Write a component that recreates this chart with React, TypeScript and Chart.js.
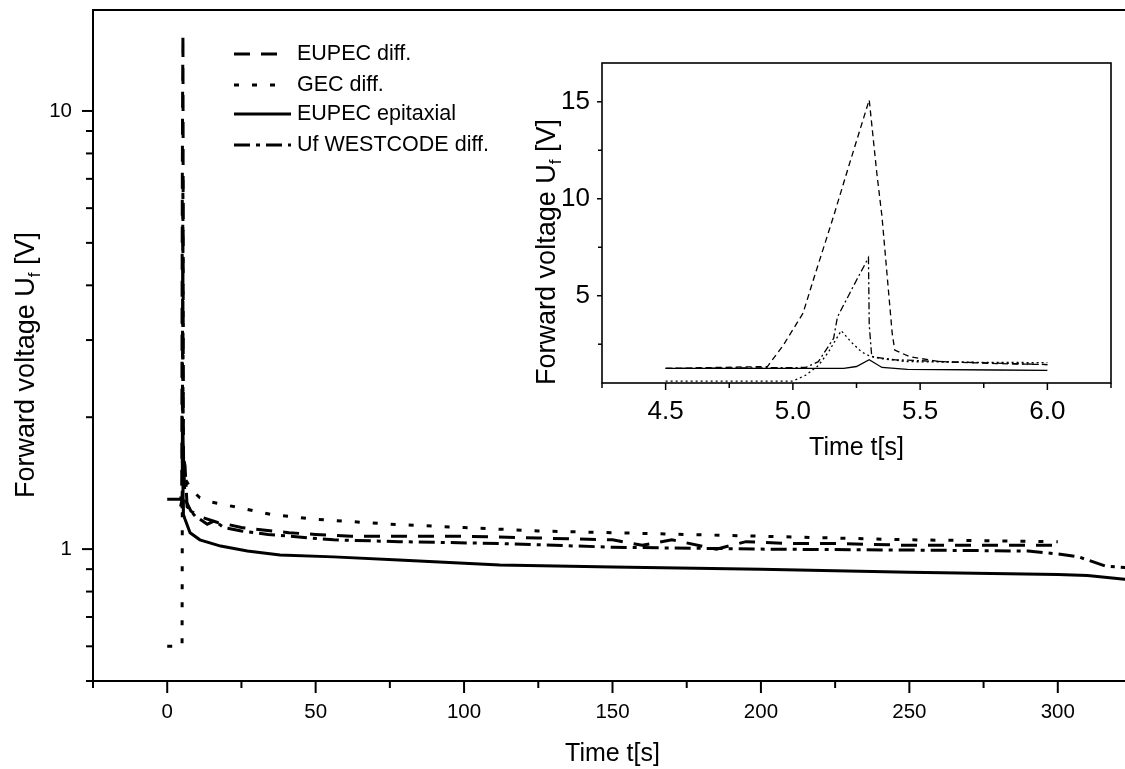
import React, { useEffect, useRef } from 'react';
import { Chart, registerables } from 'chart.js';

Chart.register(...registerables);

const FONT = '"Liberation Sans", Arial, Helvetica, sans-serif';

const SERIES_NAMES = ['EUPEC diff.', 'GEC diff.', 'EUPEC epitaxial', 'Uf WESTCODE diff.'];

// ---------- main chart data (time in s, forward voltage in V) ----------
const EUPEC_DIFF_T = [0, 3.4, 4.5, 4.9, 5.0, 5.1, 5.2, 5.3, 5.35, 5.4, 5.5, 6, 8, 12, 17, 20, 25, 30, 41, 50, 62, 75, 90, 100, 125, 150, 160, 170, 185, 195, 210, 225, 250, 275, 300];
const EUPEC_DIFF_U = [1.3, 1.3, 1.3, 1.35, 3.5, 7.5, 11.5, 15, 9, 2.2, 1.6, 1.3, 1.22, 1.18, 1.15, 1.14, 1.12, 1.11, 1.09, 1.08, 1.07, 1.07, 1.07, 1.07, 1.06, 1.05, 1.02, 1.05, 1.0, 1.04, 1.03, 1.03, 1.02, 1.02, 1.02];

const GEC_DIFF_T = [0, 5.0, 5.05, 5.1, 5.14, 5.19, 5.23, 5.3, 5.45, 6, 8, 11, 15, 25, 35, 50, 75, 100, 125, 150, 175, 200, 225, 250, 275, 300];
const GEC_DIFF_U = [0.6, 0.6, 0.9, 1.4, 2.1, 3.2, 2.6, 1.9, 1.6, 1.45, 1.37, 1.31, 1.28, 1.24, 1.2, 1.17, 1.14, 1.12, 1.1, 1.09, 1.08, 1.07, 1.06, 1.05, 1.045, 1.04];

const EUPEC_EPI_T = [4.5, 5.2, 5.3, 5.35, 5.45, 6, 7.7, 11, 18, 27, 38, 56, 78, 112, 150, 200, 250, 300, 310, 325];
const EUPEC_EPI_U = [1.25, 1.25, 1.6, 1.3, 1.2, 1.17, 1.09, 1.05, 1.016, 0.99, 0.97, 0.96, 0.944, 0.92, 0.91, 0.9, 0.885, 0.875, 0.87, 0.85];

const WESTCODE_T = [4.5, 5.05, 5.1, 5.13, 5.16, 5.175, 5.25, 5.297, 5.3, 5.31, 5.4, 5.6, 6, 6.7, 9.4, 13.5, 16, 19, 25, 34, 56, 78, 112, 150, 200, 250, 290, 300, 307, 316, 325];
const WESTCODE_U = [1.25, 1.3, 1.6, 2.2, 2.8, 3.9, 5.8, 6.96, 2.5, 1.85, 1.7, 1.6, 1.55, 1.25, 1.19, 1.14, 1.16, 1.12, 1.1, 1.08, 1.05, 1.04, 1.03, 1.01, 1.0, 0.995, 0.99, 0.975, 0.96, 0.915, 0.905];

// ---------- inset data (zoom on 4.5 .. 6.0 s) ----------
const IN_EUPEC_DIFF_T = [4.5, 4.9, 4.96, 5.04, 5.08, 5.16, 5.22, 5.3, 5.33, 5.35, 5.39, 5.4, 5.46, 5.58, 5.8, 6.0];
const IN_EUPEC_DIFF_U = [1.25, 1.35, 2.4, 4.1, 5.8, 9.1, 11.7, 15.1, 11.3, 9.1, 3.1, 2.2, 1.85, 1.6, 1.5, 1.45];

const IN_GEC_DIFF_T = [4.5, 5.0, 5.05, 5.1, 5.14, 5.19, 5.23, 5.27, 5.3, 5.35, 5.45, 5.7, 6.0];
const IN_GEC_DIFF_U = [0.6, 0.6, 0.9, 1.4, 2.1, 3.2, 2.6, 2.1, 1.9, 1.75, 1.6, 1.57, 1.55];

const IN_EUPEC_EPI_T = [4.5, 5.2, 5.25, 5.3, 5.35, 5.45, 5.8, 6.0];
const IN_EUPEC_EPI_U = [1.25, 1.25, 1.35, 1.7, 1.3, 1.2, 1.17, 1.15];

const IN_WESTCODE_T = [4.5, 5.05, 5.1, 5.13, 5.16, 5.175, 5.25, 5.297, 5.3, 5.31, 5.4, 5.6, 6.0];
const IN_WESTCODE_U = [1.25, 1.3, 1.6, 2.2, 2.8, 3.9, 5.8, 6.96, 3.5, 1.85, 1.7, 1.6, 1.45];

// ---------- ticks ----------
const MAIN_X_TICKS = [-25, 0, 25, 50, 75, 100, 125, 150, 175, 200, 225, 250, 275, 300, 325];
const MAIN_X_LABELLED = [0, 50, 100, 150, 200, 250, 300];
const MAIN_Y_TICKS = [0.5, 0.6, 0.7, 0.8, 0.9, 1, 2, 3, 4, 5, 6, 7, 8, 9, 10];
const MAIN_Y_LABELLED = [1, 10];

const INSET_X_TICKS = [4.25, 4.5, 4.75, 5.0, 5.25, 5.5, 5.75, 6.0, 6.25];
const INSET_X_LABELLED = [4.5, 5.0, 5.5, 6.0];
const INSET_Y_TICKS = [2.5, 5, 7.5, 10, 12.5, 15];
const INSET_Y_LABELLED = [5, 10, 15];

const MAIN_DASH = [[16, 11], [5, 13], [], [16, 6, 4, 6]];
const INSET_DASH = [[6, 4], [2, 3], [], [7, 3, 2, 3]];

const pts = (t: number[], u: number[]) => t.map((x, i) => ({ x, y: u[i] }));
const has = (arr: number[], v: number) => arr.some((a) => Math.abs(a - v) < 1e-9);

function drawRich(ctx: any, parts: any[], cx: number, cy: number, size: number, rotate: boolean) {
  ctx.save();
  ctx.translate(cx, cy);
  if (rotate) ctx.rotate(-Math.PI / 2);
  const fontFor = (sub: boolean) => `${sub ? Math.round(size * 0.62) : size}px ${FONT}`;
  let total = 0;
  const widths = parts.map((p) => {
    ctx.font = fontFor(!!p.sub);
    const w = ctx.measureText(p.text).width;
    total += w;
    return w;
  });
  let x = -total / 2;
  ctx.textBaseline = 'alphabetic';
  ctx.textAlign = 'left';
  ctx.fillStyle = '#000';
  parts.forEach((p, i) => {
    ctx.font = fontFor(!!p.sub);
    ctx.fillText(p.text, x, size * 0.36 + (p.sub ? size * 0.22 : 0));
    x += widths[i];
  });
  ctx.restore();
}

const decorPlugin = {
  id: 'decor',
  afterDraw(chart: any, _args: any, opts: any) {
    const ctx = chart.ctx;
    const { left, right, top, bottom } = chart.chartArea;
    ctx.save();
    ctx.strokeStyle = '#000';
    ctx.setLineDash([]);
    ctx.lineWidth = opts.frameWidth;
    ctx.strokeRect(left, top, right - left, bottom - top);
    ctx.lineWidth = opts.tickWidth;
    const xs = chart.scales.x;
    xs.ticks.forEach((t: any) => {
      const len = has(opts.xMajor, t.value) ? opts.xLen[0] : opts.xLen[1];
      const p = xs.getPixelForValue(t.value);
      ctx.beginPath();
      ctx.moveTo(p, bottom);
      ctx.lineTo(p, bottom + len);
      ctx.stroke();
    });
    const ys = chart.scales.y;
    ys.ticks.forEach((t: any) => {
      const len = has(opts.yMajor, t.value) ? opts.yLen[0] : opts.yLen[1];
      const p = ys.getPixelForValue(t.value);
      ctx.beginPath();
      ctx.moveTo(left, p);
      ctx.lineTo(left - len, p);
      ctx.stroke();
    });
    (opts.titles || []).forEach((tt: any) => {
      const cx = tt.x === 'center' ? (left + right) / 2 : tt.x;
      drawRich(ctx, tt.parts, cx, tt.y, tt.size, tt.rotate);
    });
    if (opts.legend) {
      const lg = opts.legend;
      chart.data.datasets.forEach((ds: any, i: number) => {
        const y = lg.rows[i];
        ctx.save();
        ctx.lineWidth = ds.borderWidth;
        ctx.setLineDash(ds.borderDash || []);
        ctx.beginPath();
        ctx.moveTo(lg.x0, y);
        ctx.lineTo(lg.x0 + lg.lens[i], y);
        ctx.stroke();
        ctx.restore();
        ctx.fillStyle = '#000';
        ctx.font = `${lg.size}px ${FONT}`;
        ctx.textBaseline = 'middle';
        ctx.textAlign = 'left';
        ctx.fillText(ds.label, lg.textX, y);
      });
    }
    ctx.restore();
  },
};

function makeDatasets(series: { t: number[]; u: number[] }[], dashes: number[][], width: number) {
  return series.map((s, i) => ({
    label: SERIES_NAMES[i],
    data: pts(s.t, s.u),
    borderColor: '#000',
    borderWidth: width,
    borderDash: dashes[i],
    pointRadius: 0,
    tension: 0,
    fill: false,
  }));
}

const fixX = (h: number) => (s: any) => {
  s.height = h;
  s.paddingLeft = 0;
  s.paddingRight = 0;
  s.paddingTop = 0;
  s.paddingBottom = 0;
};
const fixY = (w: number) => (s: any) => {
  s.width = w;
  s.paddingLeft = 0;
  s.paddingRight = 0;
  s.paddingTop = 0;
  s.paddingBottom = 0;
};

export default function App() {
  const mainRef = useRef<HTMLCanvasElement>(null);
  const insetRef = useRef<HTMLCanvasElement>(null);

  useEffect(() => {
    document.body.style.margin = '0';
    const mainSeries = [
      { t: EUPEC_DIFF_T, u: EUPEC_DIFF_U },
      { t: GEC_DIFF_T, u: GEC_DIFF_U },
      { t: EUPEC_EPI_T, u: EUPEC_EPI_U },
      { t: WESTCODE_T, u: WESTCODE_U },
    ];
    const insetSeries = [
      { t: IN_EUPEC_DIFF_T, u: IN_EUPEC_DIFF_U },
      { t: IN_GEC_DIFF_T, u: IN_GEC_DIFF_U },
      { t: IN_EUPEC_EPI_T, u: IN_EUPEC_EPI_U },
      { t: IN_WESTCODE_T, u: IN_WESTCODE_U },
    ];

    const main = new Chart(mainRef.current as any, {
      type: 'line',
      data: { datasets: makeDatasets(mainSeries, MAIN_DASH, 3) as any },
      options: {
        animation: false,
        responsive: false,
        maintainAspectRatio: false,
        layout: { padding: { left: 0, top: 10, right: 8, bottom: 0 } },
        plugins: {
          legend: { display: false },
          tooltip: { enabled: false },
          decor: {
            frameWidth: 2,
            tickWidth: 2,
            xMajor: MAIN_X_LABELLED,
            yMajor: MAIN_Y_LABELLED,
            xLen: [12, 7],
            yLen: [11, 7],
            titles: [
              { parts: [{ text: 'Time t[s]' }], x: 'center', y: 752, size: 25, rotate: false },
              { parts: [{ text: 'Forward voltage U' }, { text: 'f', sub: true }, { text: ' [V]' }], x: 24, y: 365, size: 27, rotate: true },
            ],
            legend: { rows: [54, 85, 114, 145], x0: 234, lens: [44, 42, 57, 57], textX: 297, size: 21.5 },
          },
        } as any,
        scales: {
          x: {
            type: 'linear',
            min: -25,
            max: 325,
            afterFit: fixX(88),
            afterBuildTicks: (s: any) => { s.ticks = MAIN_X_TICKS.map((v) => ({ value: v })); },
            grid: { display: false, drawTicks: false },
            border: { display: false },
            ticks: {
              autoSkip: false,
              maxRotation: 0,
              padding: 19,
              color: '#000',
              font: { family: FONT, size: 20.5 },
              callback: (v: any) => (has(MAIN_X_LABELLED, Number(v)) ? String(v) : ''),
            },
          },
          y: {
            type: 'logarithmic',
            min: 0.5,
            max: 17,
            afterFit: fixY(93),
            afterBuildTicks: (s: any) => { s.ticks = MAIN_Y_TICKS.map((v) => ({ value: v })); },
            grid: { display: false, drawTicks: false },
            border: { display: false },
            ticks: {
              autoSkip: false,
              padding: 21,
              color: '#000',
              font: { family: FONT, size: 20.5 },
              callback: (v: any) => (has(MAIN_Y_LABELLED, Number(v)) ? String(v) : ''),
            },
          },
        } as any,
      },
      plugins: [decorPlugin],
    });

    const inset = new Chart(insetRef.current as any, {
      type: 'line',
      data: { datasets: makeDatasets(insetSeries, INSET_DASH, 1.3) as any },
      options: {
        animation: false,
        responsive: false,
        maintainAspectRatio: false,
        layout: { padding: { left: 0, top: 23, right: 9, bottom: 0 } },
        plugins: {
          legend: { display: false },
          tooltip: { enabled: false },
          decor: {
            frameWidth: 1.6,
            tickWidth: 1.5,
            xMajor: INSET_X_LABELLED,
            yMajor: INSET_Y_LABELLED,
            xLen: [7, 5],
            yLen: [5, 4],
            titles: [
              { parts: [{ text: 'Time t[s]' }], x: 'center', y: 406, size: 25, rotate: false },
              { parts: [{ text: 'Forward voltage U' }, { text: 'f', sub: true }, { text: ' [V]' }], x: 25, y: 212, size: 27, rotate: true },
            ],
          },
        } as any,
        scales: {
          x: {
            type: 'linear',
            min: 4.25,
            max: 6.25,
            afterFit: fixX(77),
            afterBuildTicks: (s: any) => { s.ticks = INSET_X_TICKS.map((v) => ({ value: v })); },
            grid: { display: false, drawTicks: false },
            border: { display: false },
            ticks: {
              autoSkip: false,
              maxRotation: 0,
              padding: 13,
              color: '#000',
              font: { family: FONT, size: 26 },
              callback: (v: any) => (has(INSET_X_LABELLED, Number(v)) ? Number(v).toFixed(1) : ''),
            },
          },
          y: {
            type: 'linear',
            min: 0.5,
            max: 17,
            afterFit: fixY(82),
            afterBuildTicks: (s: any) => { s.ticks = INSET_Y_TICKS.map((v) => ({ value: v })); },
            grid: { display: false, drawTicks: false },
            border: { display: false },
            ticks: {
              autoSkip: false,
              padding: 12,
              color: '#000',
              font: { family: FONT, size: 26 },
              callback: (v: any) => (has(INSET_Y_LABELLED, Number(v)) ? String(v) : ''),
            },
          },
        } as any,
      },
      plugins: [decorPlugin],
    });

    return () => {
      main.destroy();
      inset.destroy();
    };
  }, []);

  return (
    <div style={{ position: 'relative', width: 1125, height: 769, overflow: 'hidden', background: '#fff' }}>
      <canvas ref={mainRef} width={1140} height={769} style={{ position: 'absolute', left: 0, top: 0, width: 1140, height: 769 }} />
      <canvas ref={insetRef} width={600} height={420} style={{ position: 'absolute', left: 520, top: 40, width: 600, height: 420 }} />
    </div>
  );
}
